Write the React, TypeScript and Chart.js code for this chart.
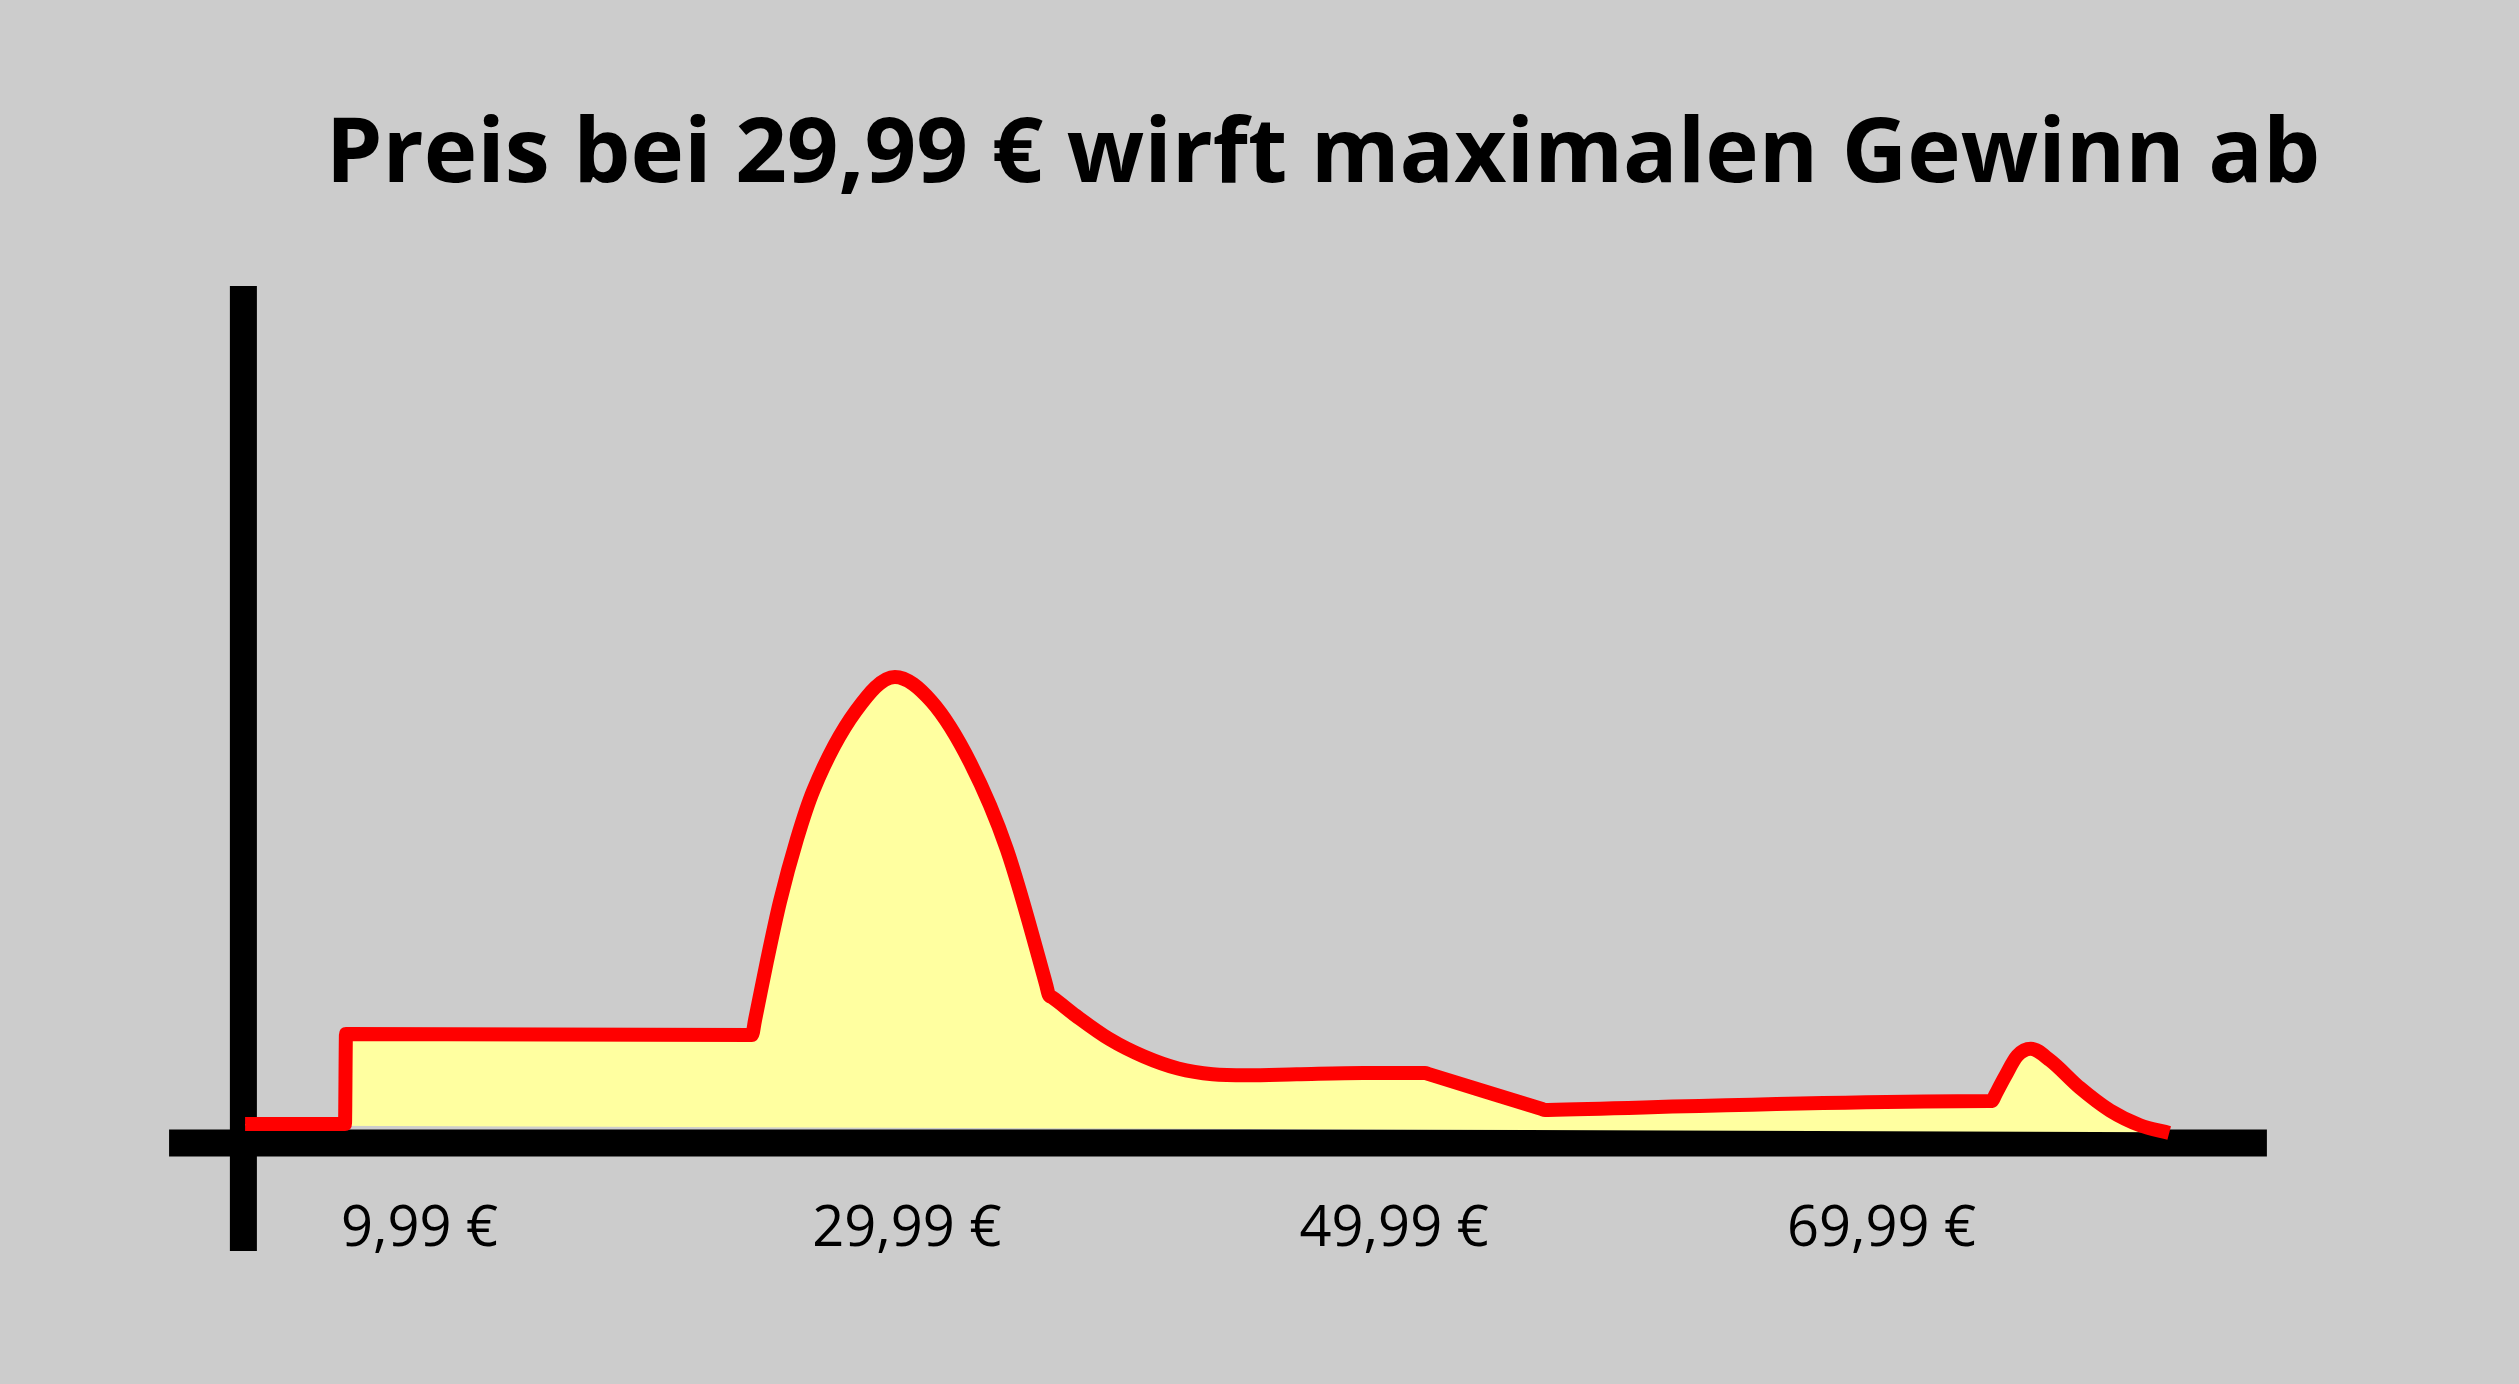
import React, { useEffect, useRef } from "react";
import { Chart, registerables } from "chart.js";

Chart.register(...registerables);

const TITLE = "Preis bei 29,99 € wirft maximalen Gewinn ab";

// Price in € (x) and profit (y, arbitrary units)
const PRICE = [
  2.83, 6.93, 6.97, 23.63, 23.76, 24.25, 24.78, 25.48, 26.16, 27.9, 29.5,
  31.0, 32.6, 34.09, 35.7, 35.82, 35.95, 36.93, 38.32, 39.72,
  41.12, 42.54, 43.94, 45.99, 48.72, 51.13, 51.26, 51.38, 56.06,
  56.18, 56.3, 74.4, 74.53, 74.65, 75.06, 75.57, 76.12, 76.91, 78.14,
  79.37, 80.6, 81.8,
];
const PROFIT = [
  2.22, 2.22, 12.72, 12.6, 14.35, 21.24, 28.12, 35.47, 41.19, 50.41, 54.38,
  51.53, 44.33, 34.31, 18.55, 17.27, 17.0, 14.85, 12.1, 10.09,
  8.69, 8.02, 7.9, 8.02, 8.17, 8.17, 8.17, 8.06, 3.96,
  3.85, 3.86, 4.89, 4.9, 5.55, 7.74, 10.19, 11.0, 9.65, 6.42,
  3.79, 2.07, 1.17,
];

// lower edge of the yellow area
const BASE_PRICE = [2.83, 81.8];
const BASE_PROFIT = [2.04, 1.25];

const TICK_VALUES = [9.99, 29.99, 49.99, 69.99];
const TICK_LABELS = ["9,99 €", "29,99 €", "49,99 €", "69,99 €"];

// axis extents (data units)
const X_AXIS_PRICE = [-0.29, 85.81];
const Y_AXIS_AT_PRICE = 2.76;
const Y_AXIS_PROFIT = [100, -12.6];

export default function App() {
  const ref = useRef<HTMLCanvasElement>(null);

  useEffect(() => {
    const pts = (xs: number[], ys: number[]) => xs.map((x, i) => ({ x, y: ys[i] }));
    const chart = new Chart(ref.current as HTMLCanvasElement, {
      type: "line",
      data: {
        datasets: [
          {
            label: "Gewinn",
            data: pts(PRICE, PROFIT),
            borderColor: "#ff0000",
            borderWidth: 14,
            backgroundColor: "#ffffa0",
            fill: 1,
            cubicInterpolationMode: "monotone",
            pointRadius: 0,
            borderJoinStyle: "miter",
            borderCapStyle: "butt",
          } as any,
          {
            label: "Basis",
            data: pts(BASE_PRICE, BASE_PROFIT),
            borderColor: "transparent",
            borderWidth: 0,
            pointRadius: 0,
            fill: false,
            tension: 0,
          },
          {
            label: "x-Achse",
            data: X_AXIS_PRICE.map((x) => ({ x, y: 0 })),
            borderColor: "#000000",
            borderWidth: 27,
            borderCapStyle: "butt",
            pointRadius: 0,
            fill: false,
            tension: 0,
            clip: false,
          } as any,
          {
            label: "y-Achse",
            data: Y_AXIS_PROFIT.map((y) => ({ x: Y_AXIS_AT_PRICE, y })),
            borderColor: "#000000",
            borderWidth: 27,
            borderCapStyle: "butt",
            pointRadius: 0,
            fill: false,
            tension: 0,
            clip: false,
          } as any,
        ],
      },
      options: {
        animation: false,
        responsive: true,
        maintainAspectRatio: false,
        events: [],
        layout: { padding: { left: 127, right: 0, top: 0, bottom: 0 }, autoPadding: false } as any,
        plugins: {
          legend: { display: false },
          tooltip: { enabled: false },
          title: {
            display: true,
            text: TITLE,
            color: "#000000",
            font: { family: "'Open Sans', sans-serif", size: 90.5, weight: "bold", lineHeight: 1.2 },
            padding: { top: 102, bottom: 75.4 },
          },
        },
        scales: {
          x: {
            type: "linear",
            min: -2.017,
            max: 96.157,
            grid: { display: false, drawTicks: false },
            border: { display: false },
            afterBuildTicks: (s: any) => {
              s.ticks = TICK_VALUES.map((v) => ({ value: v }));
            },
            afterFit: (s: any) => {
              s.height = 241;
            },
            ticks: {
              autoSkip: false,
              maxRotation: 0,
              minRotation: 0,
              padding: 53,
              color: "#000000",
              font: { family: "'Open Sans', sans-serif", size: 56, weight: "normal" },
              callback: (_v: any, i: number) => TICK_LABELS[i],
            },
          } as any,
          y: { type: "linear", display: false, min: 0, max: 100 },
        },
      },
    });
    return () => chart.destroy();
  }, []);

  return (
    <div
      style={{
        position: "fixed",
        left: 0,
        top: 0,
        width: "2519px",
        height: "1384px",
        background: "#cccccc",
      }}
    >
      <canvas ref={ref} />
    </div>
  );
}
